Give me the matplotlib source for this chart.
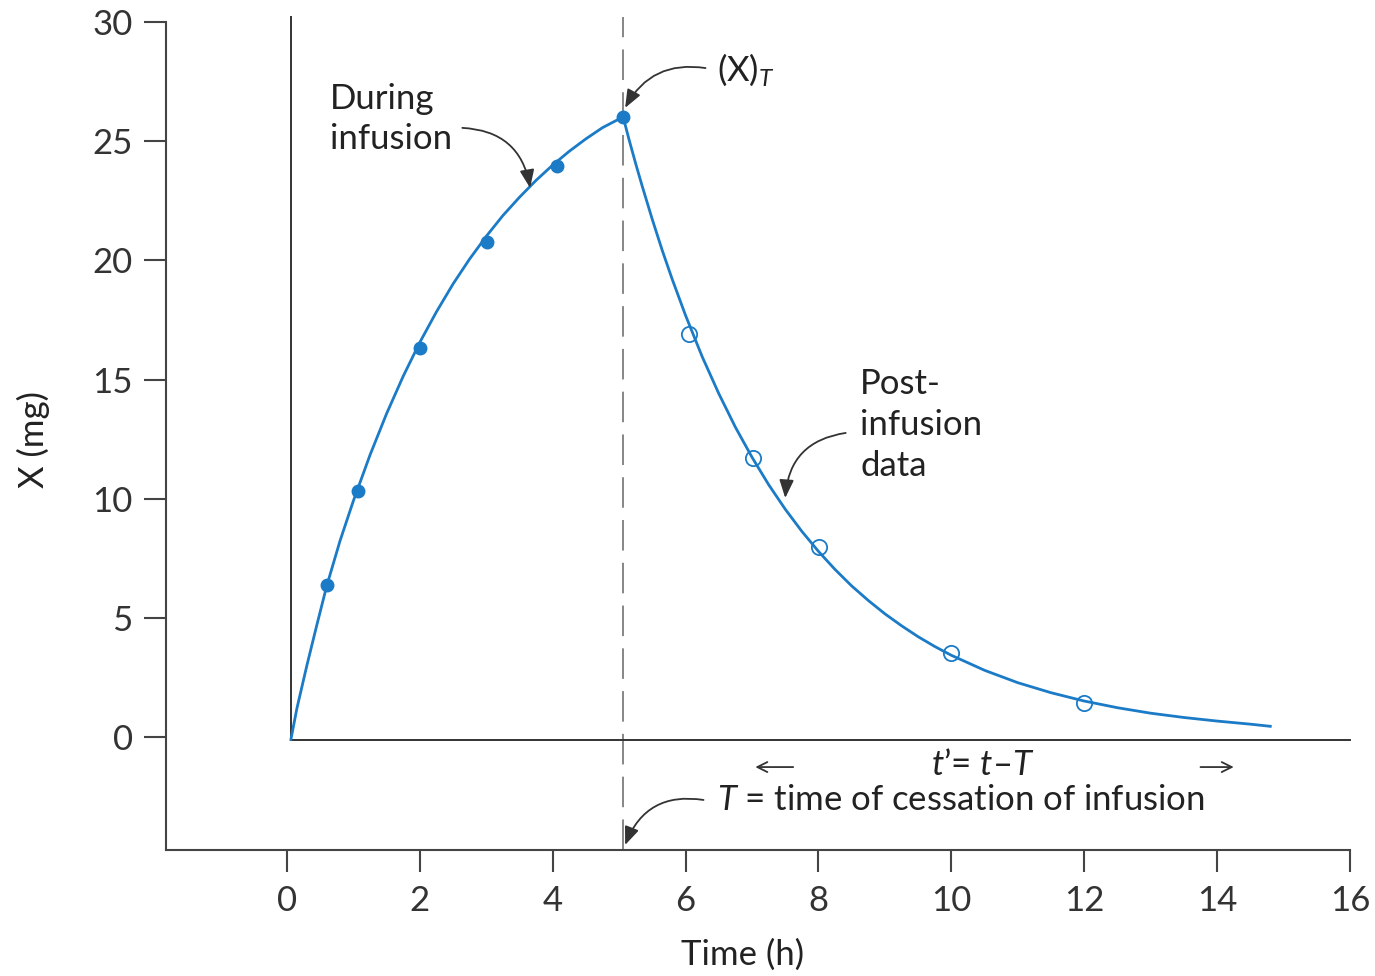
import matplotlib
matplotlib.use('Agg')
import matplotlib.pyplot as plt

plt.rcParams['font.family'] = ['Lato', 'DejaVu Sans']
plt.rcParams['mathtext.fontset'] = 'custom'
plt.rcParams['mathtext.rm'] = 'Lato'
plt.rcParams['mathtext.it'] = 'Lato:italic'

# measured points (h, mg)
t_during = [0.60, 1.07, 2.00, 3.01, 4.07, 5.06]
x_during = [6.38, 10.32, 16.32, 20.77, 23.96, 26.02]
t_post = [6.05, 7.02, 8.01, 10.00, 11.99]
x_post = [16.91, 11.71, 7.97, 3.52, 1.43]

# fitted curve
t_curve = [0.06, 0.15, 0.3, 0.45, 0.6, 0.8, 1.0, 1.25, 1.5, 1.75, 2.0, 2.25, 2.5, 2.75,
           3.0, 3.25, 3.5, 3.75, 4.0, 4.25, 4.5, 4.75, 5.06,
           5.15, 5.25, 5.35, 5.5, 5.65, 5.8, 6.0, 6.25, 6.5, 6.75, 7.0, 7.25, 7.5, 7.75,
           8.0, 8.25, 8.5, 8.75, 9.0, 9.25, 9.5, 9.75, 10.0, 10.5, 11.0, 11.5,
           12.0, 12.5, 13.0, 13.5, 14.0, 14.5, 14.8]
x_curve = [-0.1, 1.2, 3.0, 4.7, 6.35, 8.24, 9.91, 11.83, 13.57, 15.14, 16.56, 17.84, 19.01, 20.06,
           21.01, 21.88, 22.65, 23.36, 24.00, 24.58, 25.10, 25.57, 26.02,
           25.06, 24.05, 23.09, 21.71, 20.41, 19.20, 17.69, 15.96, 14.41, 13.00, 11.74, 10.59, 9.56, 8.63,
           7.79, 7.03, 6.34, 5.73, 5.17, 4.67, 4.21, 3.80, 3.43, 2.80, 2.28, 1.86,
           1.51, 1.23, 1.00, 0.82, 0.67, 0.54, 0.45]
T_stop = 5.06

blue = '#1b7bc6'
dark = '#333333'
txt = '#222222'

fig = plt.figure(figsize=(13.75, 9.76), dpi=100)
ax = fig.add_axes([166/1375, 126/976, (1350-166)/1375, (850-17.3)/976])

ax.set_xlim(-1.82, 16)
ax.set_ylim(-4.74, 30.2)
for s in ['top', 'right']:
    ax.spines[s].set_visible(False)
for s in ['left', 'bottom']:
    ax.spines[s].set_linewidth(1.5)
    ax.spines[s].set_color('#444444')
ax.spines['left'].set_bounds(-4.74, 30)

ax.set_xticks(range(0, 17, 2))
ax.set_yticks(range(0, 31, 5))
ax.tick_params(axis='both', length=16, width=1.5, color='#444444', labelsize=25, labelcolor=dark)
ax.tick_params(axis='y', pad=8)
ax.tick_params(axis='x', pad=9)

# inner axes
ax.plot([0.06, 0.06], [-0.12, 30.2], color='#333333', lw=1.4, clip_on=False, zorder=2)
ax.plot([0.06, 16], [-0.12, -0.12], color='#333333', lw=1.4, clip_on=False, zorder=2)

# cessation line
ax.plot([T_stop, T_stop], [-4.74, 30.2], color='#666666', lw=1.1,
        linestyle=(0, (20, 8)), clip_on=False, zorder=1)

ax.plot(t_curve, x_curve, color=blue, lw=2.0, zorder=3, solid_joinstyle='round')
ax.plot(t_during, x_during, 'o', color=blue, markersize=9, zorder=4)
ax.plot(t_post, x_post, 'o', markerfacecolor='none', markeredgecolor=blue,
        markeredgewidth=1.3, markersize=11, zorder=4)

arrow = dict(arrowstyle='-|>,head_length=0.5,head_width=0.2', color='#333333', lw=1.3,
             mutation_scale=22, shrinkA=0, shrinkB=0)

ax.text(0.648, 25.93, 'During\ninfusion', fontsize=25, color=txt, ha='left', va='center', linespacing=1.33)
ax.annotate('', xy=(3.66, 23.04), xytext=(2.64, 25.56),
            arrowprops=dict(arrow, connectionstyle='arc3,rad=-0.4'))

ax.text(6.48, 27.99, '(X)$_T$', fontsize=25, color=txt, ha='left', va='center')
ax.annotate('', xy=(5.09, 26.40), xytext=(6.30, 28.07),
            arrowprops=dict(arrow, connectionstyle='arc3,rad=0.35'))

ax.text(8.63, 13.09, 'Post-\ninfusion\ndata', fontsize=25, color=txt, ha='left', va='center', linespacing=1.33)
ax.annotate('', xy=(7.50, 10.03), xytext=(8.41, 12.76),
            arrowprops=dict(arrow, connectionstyle='arc3,rad=0.4'))

ax.text(10.47, -1.17, '$t$\u2019= $t$\u2013$T$', fontsize=25, color=txt, ha='center', va='center')
ax.annotate('', xy=(7.05, -1.26), xytext=(7.62, -1.26),
            arrowprops=dict(arrowstyle='->', color='#333333', lw=1.3, mutation_scale=18, shrinkA=0, shrinkB=0))
ax.annotate('', xy=(14.25, -1.26), xytext=(13.75, -1.26),
            arrowprops=dict(arrowstyle='->', color='#333333', lw=1.3, mutation_scale=18, shrinkA=0, shrinkB=0))

ax.text(6.48, -2.64, '$T$ = time of cessation of infusion', fontsize=25, color=txt, ha='left', va='center')
ax.annotate('', xy=(5.09, -4.53), xytext=(6.27, -2.64),
            arrowprops=dict(arrow, connectionstyle='arc3,rad=0.4'))

fig.text(743/1375, 1 - 955/976, 'Time (h)', fontsize=25, color=txt, ha='center', va='center')
fig.text(33/1375, 1 - 440/976, 'X (mg)', fontsize=25, color=txt, ha='center', va='center', rotation=90)

fig.savefig('out.png', dpi=100)
